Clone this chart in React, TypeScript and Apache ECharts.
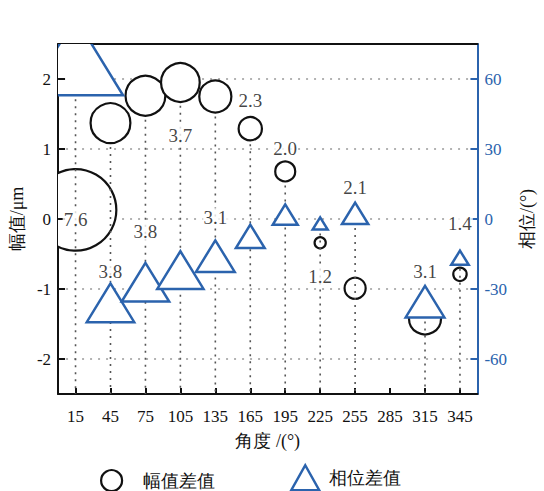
import React, { useEffect, useRef } from 'react';
import * as echarts from 'echarts';

// ---- data ----
const categories = ['15', '45', '75', '105', '135', '165', '195', '225', '255', '285', '315', '345'];
// amplitude difference (μm), left axis
const ampDiff = [0.13, 1.37, 1.76, 1.95, 1.75, 1.29, 0.68, -0.34, -0.99, null, -1.42, -0.79];
// phase difference (°), right axis
const phaseDiff = [69.6, -35.9, -27.1, -21.9, -15.9, -7.4, 1.9, -1.9, 2.4, null, -35.4, -16.6];
// marker size value shown as label
const markerSize = [7.6, 3.8, 3.8, 3.7, 3.1, 2.3, 2.0, 1.2, 2.1, null, 3.1, 1.4];
// where each size label sits (left-axis units)
const labelAnchor = [0.0, -0.75, -0.18, 1.2, 0.02, 1.7, 1.01, -0.82, 0.45, null, -0.75, -0.07];
const ampTicks = [-2, -1, 0, 1, 2];
const phaseTicks = [-60, -30, 0, 30, 60];

const AMP_MIN = -2.5;
const AMP_MAX = 2.5;
const PHASE_MIN = -75;
const PHASE_MAX = 75;

const BLUE = '#2b63ad';
const BLACK = '#111111';
const SERIF = 'Liberation Serif';

const circleR = (s: number) => 5.5 * s - 1;
const triW = (s: number) => 12.5 * s;
const triH = (s: number) => 10.2 * s;

export default function App() {
  const ref = useRef<HTMLDivElement>(null);

  useEffect(() => {
    if (!ref.current) return;
    document.body.style.margin = '0';
    const chart = echarts.init(ref.current, undefined, { renderer: 'svg' });

    const idx = categories.map((_, i) => i).filter((i) => ampDiff[i] !== null);
    const circleData = idx.map((i) => [i, ampDiff[i], markerSize[i]]);
    const triData = idx.map((i) => [i, phaseDiff[i], markerSize[i]]);
    const dropData = idx.map((i) => [i, ampDiff[i], phaseDiff[i], markerSize[i]]);
    const labelData = idx.map((i) => [i, labelAnchor[i], markerSize[i]]);

    const intLabel = (v: number) => (Math.abs(v - Math.round(v)) < 1e-9 ? String(Math.round(v)) : '');
    const thirtyLabel = (v: number) => (Math.abs(v % 30) < 1e-9 ? String(v) : '');

    chart.setOption({
      animation: false,
      backgroundColor: '#ffffff',
      grid: { left: 54, right: 53, top: 44, bottom: 97 },
      legend: [
        {
          data: [{ name: '幅值差值', icon: 'circle' }],
          left: 95,
          top: 464,
          itemWidth: 21,
          itemHeight: 21,
          itemStyle: { color: '#ffffff', borderColor: BLACK, borderWidth: 2.2 },
          textStyle: { fontSize: 18, color: BLACK, fontFamily: SERIF, padding: [0, 0, 0, 16] },
          selectedMode: false,
        },
        {
          data: [{ name: '相位差值', icon: 'triangle' }],
          left: 285,
          top: 459,
          itemWidth: 28,
          itemHeight: 25,
          itemStyle: { color: '#ffffff', borderColor: BLUE, borderWidth: 2.5 },
          textStyle: { fontSize: 18, color: BLACK, fontFamily: SERIF, padding: [0, 0, 0, 5] },
          selectedMode: false,
        },
      ],
      xAxis: [
        {
          type: 'category',
          data: categories,
          boundaryGap: true,
          name: '角度 /(°)',
          nameLocation: 'middle',
          nameGap: 38,
          nameTextStyle: { fontSize: 18, color: BLACK, fontFamily: SERIF },
          axisLine: { onZero: false, lineStyle: { color: BLACK, width: 2 } },
          axisTick: { show: true, inside: true, alignWithLabel: true, length: 6, lineStyle: { color: BLACK, width: 2 } },
          axisLabel: { color: BLACK, fontSize: 17, fontFamily: SERIF, margin: 14, interval: 0 },
          splitLine: { show: false },
        },
        {
          type: 'category',
          data: categories,
          position: 'top',
          axisLine: { onZero: false, lineStyle: { color: BLACK, width: 2 } },
          axisTick: { show: false },
          axisLabel: { show: false },
          splitLine: { show: false },
        },
      ],
      yAxis: [
        {
          type: 'value',
          min: AMP_MIN,
          max: AMP_MAX,
          interval: 0.5,
          name: '幅值/μm',
          nameLocation: 'middle',
          nameRotate: 90,
          nameGap: 31,
          nameTextStyle: { fontSize: 18, color: BLACK, fontFamily: SERIF },
          axisLine: { show: true, onZero: false, lineStyle: { color: BLACK, width: 2 } },
          axisTick: { show: false },
          axisLabel: { color: BLACK, fontSize: 17, fontFamily: SERIF, margin: 7, formatter: intLabel },
          splitLine: { show: false },
        },
        {
          type: 'value',
          min: PHASE_MIN,
          max: PHASE_MAX,
          interval: 15,
          position: 'right',
          name: '相位/(°)',
          nameLocation: 'middle',
          nameRotate: 90,
          nameGap: 31,
          nameTextStyle: { fontSize: 18, color: BLACK, fontFamily: SERIF },
          axisLine: { show: true, onZero: false, lineStyle: { color: BLUE, width: 2 } },
          axisTick: { show: false },
          axisLabel: { color: BLUE, fontSize: 17, fontFamily: SERIF, margin: 7, formatter: thirtyLabel },
          splitLine: { show: false },
        },
      ],
      series: [
        // horizontal dotted grid lines
        {
          type: 'custom',
          name: 'grid',
          yAxisIndex: 0,
          z: 1,
          silent: true,
          data: ampTicks.map((v) => [0, v]),
          renderItem: (params: any, api: any) => {
            const cs = params.coordSys;
            const y = api.coord([0, api.value(1)])[1];
            return {
              type: 'line',
              shape: { x1: cs.x, y1: y, x2: cs.x + cs.width, y2: y },
              style: { stroke: '#9a9a9a', lineWidth: 1.6, lineDash: [2, 6] },
            };
          },
        },
        // amplitude circles
        {
          type: 'custom',
          name: '幅值差值',
          yAxisIndex: 0,
          z: 2,
          clip: true,
          data: circleData,
          renderItem: (params: any, api: any) => {
            const p = api.coord([api.value(0), api.value(1)]);
            const s = api.value(2);
            return {
              type: 'circle',
              shape: { cx: p[0], cy: p[1], r: circleR(s) },
              style: { fill: '#ffffff', stroke: BLACK, lineWidth: 2.2 },
            };
          },
        },
        // dotted drop lines
        {
          type: 'custom',
          name: 'drop',
          yAxisIndex: 0,
          z: 3,
          clip: true,
          silent: true,
          data: dropData,
          renderItem: (params: any, api: any) => {
            const cs = params.coordSys;
            const i = api.value(0);
            const s = api.value(3);
            const pc = api.coord([i, api.value(1)]);
            const pt = api.coord([i, (api.value(2) * AMP_MAX) / PHASE_MAX]);
            const r = circleR(s);
            const h = triH(s);
            const circTop = pc[1] - r;
            const circBot = pc[1] + r;
            const triTop = pt[1] - h / 2;
            const triBot = pt[1] + h / 2;
            const start = (triTop < circTop ? triBot : circBot) + 4;
            const bottom = cs.y + cs.height;
            return {
              type: 'line',
              shape: { x1: pc[0], y1: start, x2: pc[0], y2: bottom },
              style: { stroke: '#555555', lineWidth: 1.6, lineDash: [2, 5] },
            };
          },
        },
        // phase triangles
        {
          type: 'custom',
          name: '相位差值',
          yAxisIndex: 1,
          z: 4,
          clip: true,
          data: triData,
          renderItem: (params: any, api: any) => {
            const p = api.coord([api.value(0), api.value(1)]);
            const s = api.value(2);
            const w = triW(s);
            const h = triH(s);
            return {
              type: 'polygon',
              shape: {
                points: [
                  [p[0], p[1] - h / 2],
                  [p[0] + w / 2, p[1] + h / 2],
                  [p[0] - w / 2, p[1] + h / 2],
                ],
              },
              style: { fill: '#ffffff', stroke: BLUE, lineWidth: 2.5, lineJoin: 'miter' },
            };
          },
        },
        // left axis ticks
        {
          type: 'custom',
          name: 'ltick',
          yAxisIndex: 0,
          z: 6,
          silent: true,
          data: ampTicks.map((v) => [0, v]),
          renderItem: (params: any, api: any) => {
            const cs = params.coordSys;
            const y = api.coord([0, api.value(1)])[1];
            return {
              type: 'line',
              shape: { x1: cs.x, y1: y, x2: cs.x + 7, y2: y },
              style: { stroke: BLACK, lineWidth: 2 },
            };
          },
        },
        // right axis ticks
        {
          type: 'custom',
          name: 'rtick',
          yAxisIndex: 1,
          z: 6,
          silent: true,
          data: phaseTicks.map((v) => [0, v]),
          renderItem: (params: any, api: any) => {
            const cs = params.coordSys;
            const y = api.coord([0, api.value(1)])[1];
            return {
              type: 'line',
              shape: { x1: cs.x + cs.width - 7, y1: y, x2: cs.x + cs.width, y2: y },
              style: { stroke: BLUE, lineWidth: 2 },
            };
          },
        },
        // size labels
        {
          type: 'scatter',
          name: 'labels',
          yAxisIndex: 0,
          z: 8,
          silent: true,
          symbolSize: 1,
          itemStyle: { color: 'rgba(0,0,0,0)' },
          data: labelData,
          label: {
            show: true,
            position: 'inside',
            formatter: (p: any) => Number(p.value[2]).toFixed(1),
            color: BLACK,
            fontSize: 19,
            fontFamily: SERIF,
            backgroundColor: '#ffffff',
            padding: [0, 1],
          },
        },
      ],
    });

    return () => {
      chart.dispose();
    };
  }, []);

  return <div ref={ref} style={{ position: 'fixed', left: 0, top: 0, width: 544, height: 491 }} />;
}
